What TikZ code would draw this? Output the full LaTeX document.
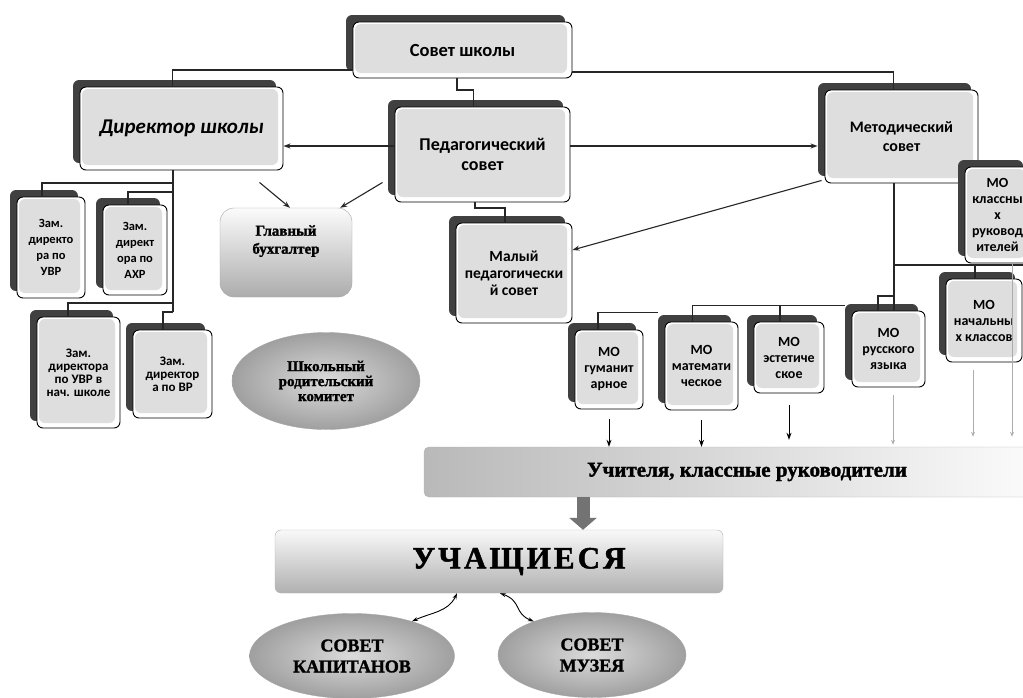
\documentclass[tikz,border=0pt]{standalone}
\usepackage{fontspec}
\setmainfont{Carlito}
\newfontfamily\tnr[BoldFeatures={FakeBold=1.5}]{Liberation Serif}
\newfontfamily\tnrwide[LetterSpace=10,BoldFeatures={FakeBold=1.5}]{Liberation Serif}
\usetikzlibrary{shadows,arrows.meta,shapes.geometric}
\definecolor{boxgray}{gray}{0.87}
\definecolor{shadowgray}{gray}{0.25}
\newcommand{\fs}[2]{\fontsize{#1}{#2}\selectfont}
\tikzset{
  wh/.style 2 args={minimum width=#1pt, minimum height=#2pt},
  sbox/.style={draw=black, line width=0.9pt, fill=white, rounded corners=6pt,
    general shadow={fill=shadowgray, shadow xshift=-7pt, shadow yshift=7pt},
    path picture={\fill[boxgray] ([shift={(2pt,5pt)}]path picture bounding box.south west)
      rectangle ([shift={(-5pt,-2pt)}]path picture bounding box.north east);},
    align=center, inner sep=1pt},
  zambox/.style={sbox, font=\bfseries\fs{12.5}{16}},
  mobox/.style={sbox, font=\bfseries\fs{14}{16}},
  gradbox/.style={draw=gray!70, rounded corners=14pt, top color=gray!3, bottom color=gray!65,
    align=center, inner sep=1pt, font=\tnr\bfseries\fs{15}{18}},
  oval/.style={ellipse, draw=gray!70, inner color=gray!28, outer color=gray!75,
    align=center, inner sep=1pt, font=\tnr\bfseries\fs{18}{21}},
  conn/.style={line width=1.1pt, black!85},
  arr/.style={conn, -{Stealth[length=7pt,width=5pt]}},
  moarr/.style={line width=1pt, -{Stealth[length=7pt,width=5pt]}},
  grayarr/.style={line width=0.6pt, gray!65, -{Stealth[open,length=5pt,width=4pt]}},
  bigarr/.style={line width=13pt, black!55, -{Triangle[length=12pt,width=27pt]}},
  wavearr/.style={line width=0.9pt, {Stealth[length=6pt,width=4pt]}-{Stealth[length=6pt,width=4pt]}}
}

\begin{document}
\begin{tikzpicture}[x=1pt, y=-1pt]
\path[use as bounding box, fill=white] (0,0) rectangle (1023,697);

% administration
\node[sbox, wh={219}{56}, font=\bfseries\fs{18.5}{22}] (sovet) at (462.5,50) {Совет школы};
\node[sbox, wh={203}{83}, font=\bfseries\itshape\fs{21}{24}] (dir) at (181.5,128.5) {Директор школы};
\node[sbox, wh={175}{95}, font=\bfseries\fs{18}{20}] (ped) at (482.5,154.5) {Педагогический\\совет};
\node[sbox, wh={153}{93}, font=\bfseries\fs{16}{19}] (metod) at (901.5,136.5) {Методический\\совет};
\node[sbox, wh={116}{100}, font=\bfseries\fs{15.5}{17}] (maly) at (514,273) {Малый\\педагогически\\й совет};

\node[zambox, wh={68}{101}] (zam1) at (51,247.5) {Зам.\\директо\\ра по\\УВР};
\node[zambox, wh={64}{90}] (zam2) at (135,250) {Зам.\\директ\\ора по\\АХР};
\node[zambox, wh={83}{111}, font=\bfseries\fs{13}{13}] (zam3) at (78.5,372.5) {Зам.\\директора\\по УВР в\\нач. школе};
\node[zambox, wh={79}{88}, font=\bfseries\fs{13}{13}] (zam4) at (172.5,374) {Зам.\\директор\\а по ВР};

\node[gradbox, wh={132}{89}] (buh) at (286,252.5) {Главный\\бухгалтер\\[8pt]\mbox{}};
\node[oval, wh={188}{97}, font=\tnr\bfseries\fs{15}{15}] (komitet) at (326,381) {Школьный\\родительский\\комитет};

% methodical units
\node[mobox, wh={68}{79}] (mo1) at (609,369.5) {МО\\гуманит\\арное};
\node[mobox, wh={73}{88}] (mo2) at (701.5,366) {МО\\математи\\ческое};
\node[mobox, wh={70}{71}] (mo3) at (789,357.5) {МО\\эстетиче\\ское};
\node[mobox, wh={73}{76}] (mo4) at (888.5,349) {МО\\русского\\языка};
\node[mobox, wh={76}{83}] (mo5) at (984,320.5) {МО\\начальны\\х классов};
\node[mobox, wh={65}{96}] (mo6) at (997.5,215) {МО\\классны\\х\\руковод\\ителей};

% teachers and pupils
\node[draw=gray!60, rounded corners=5pt, left color=gray!55, right color=white, wh={646}{50},
  font=\tnr\bfseries\fs{21}{24}] (uchit) at (747,472) {Учителя, классные руководители};
\node[draw=gray!60, rounded corners=6pt, top color=gray!5, bottom color=gray!62, wh={448}{63},
  font=\tnrwide\bfseries\fs{31}{34}] (uchash) at (499,561.5) {\hspace*{40pt}УЧАЩИЕСЯ};
\node[oval, wh={205}{85}] (kap) at (352,656) {СОВЕТ\\КАПИТАНОВ};
\node[oval, wh={188}{85}] (muz) at (592,655) {СОВЕТ\\МУЗЕЯ};

% connectors
\draw[conn] ([yshift=-20pt]sovet.west) -| ([xshift=-9pt]dir.north);
\draw[conn] ([yshift=-22pt]sovet.east) -| ([xshift=-8pt]metod.north);
\draw[conn] (sovet.south -| 457,0) -- (457,90) -| ([xshift=-9pt]ped.north);
\draw[conn] (ped.south -| 475,0) -- (475,208) -| ([xshift=-9pt]maly.north);

\coordinate (pedw) at ([yshift=8.5pt]ped.west);
\draw[arr] (pedw) -- (pedw -| dir.east);
\draw[arr, shorten >=7pt] (ped.east |- pedw) -- (pedw -| metod.west);
\draw[arr] ([shift={(-3pt,3pt)}]metod.south west) -- ([yshift=23pt]maly.east);
\draw[arr] ([shift={(78pt,-12pt)}]dir.south) -- ([xshift=4pt]buh.north);
\draw[arr] ([shift={(-12pt,20pt)}]ped.south west) -- ([xshift=-12pt]buh.north east);

\draw[conn] ([xshift=-8.5pt]dir.south) coordinate (dt) -- (dt |- 0,312);
\draw[conn] (dt |- 0,183) -| ([xshift=-9pt]zam1.north);
\draw[conn] (dt |- 0,192) -| ([xshift=-7pt]zam2.north);
\draw[conn] (dt |- 0,303) -| ([xshift=-10.5pt]zam3.north);
\draw[conn] (dt |- 0,312) -| ([xshift=-9.5pt]zam4.north);

\draw[conn] ([xshift=-7.5pt]metod.south) coordinate (mj) -- (mj |- mo4.north);
\draw[conn] (mj |- 0,265) -- (1030,265);
\draw[conn] ([xshift=-9pt]mo5.north) |- (mj |- 0,265);
\draw[conn] (mj |- 0,296) -| ([xshift=-10.5pt]mo4.north);
\coordinate (bus) at ([shift={(-7pt,5pt)}]mo4.north west);
\draw[conn] (bus) -| ([xshift=-9pt]mo2.north);
\draw[conn] ([xshift=-9pt]mo3.north) |- (bus);
\coordinate (bus2) at ([shift={(-7pt,9pt)}]mo2.north west);
\draw[conn] (bus2) -| ([xshift=-11pt]mo1.north);

\draw[moarr] ([yshift=-10pt]mo1.south) -- (mo1.south |- uchit.north);
\draw[moarr] ([yshift=-10pt]mo2.south) -- (mo2.south |- uchit.north);
\draw[moarr, shorten >=7pt] ([yshift=-12pt]mo3.south) -- (mo3.south |- uchit.north);
\draw[grayarr, shorten >=2pt] ([shift={(4.5pt,-8pt)}]mo4.south) coordinate (r4) -- (r4 |- uchit.north);
\draw[grayarr, shorten >=10pt] ([shift={(-11pt,-8pt)}]mo5.south) coordinate (r5) -- (r5 |- uchit.north);
\draw[grayarr, shorten >=10pt] ([xshift=14.5pt]mo6.south) coordinate (r6) -- (r6 |- uchit.north);

\draw[bigarr] (uchit.south -| 583,0) -- (uchash.north -| 583,0);
\draw[wavearr] ([xshift=-42pt]uchash.south) to[out=-115, in=25] (kap.30);
\draw[wavearr] ([xshift=1pt]uchash.south) .. controls +(22,8) and +(-20,-8) .. (muz.150);
\end{tikzpicture}
\end{document}
